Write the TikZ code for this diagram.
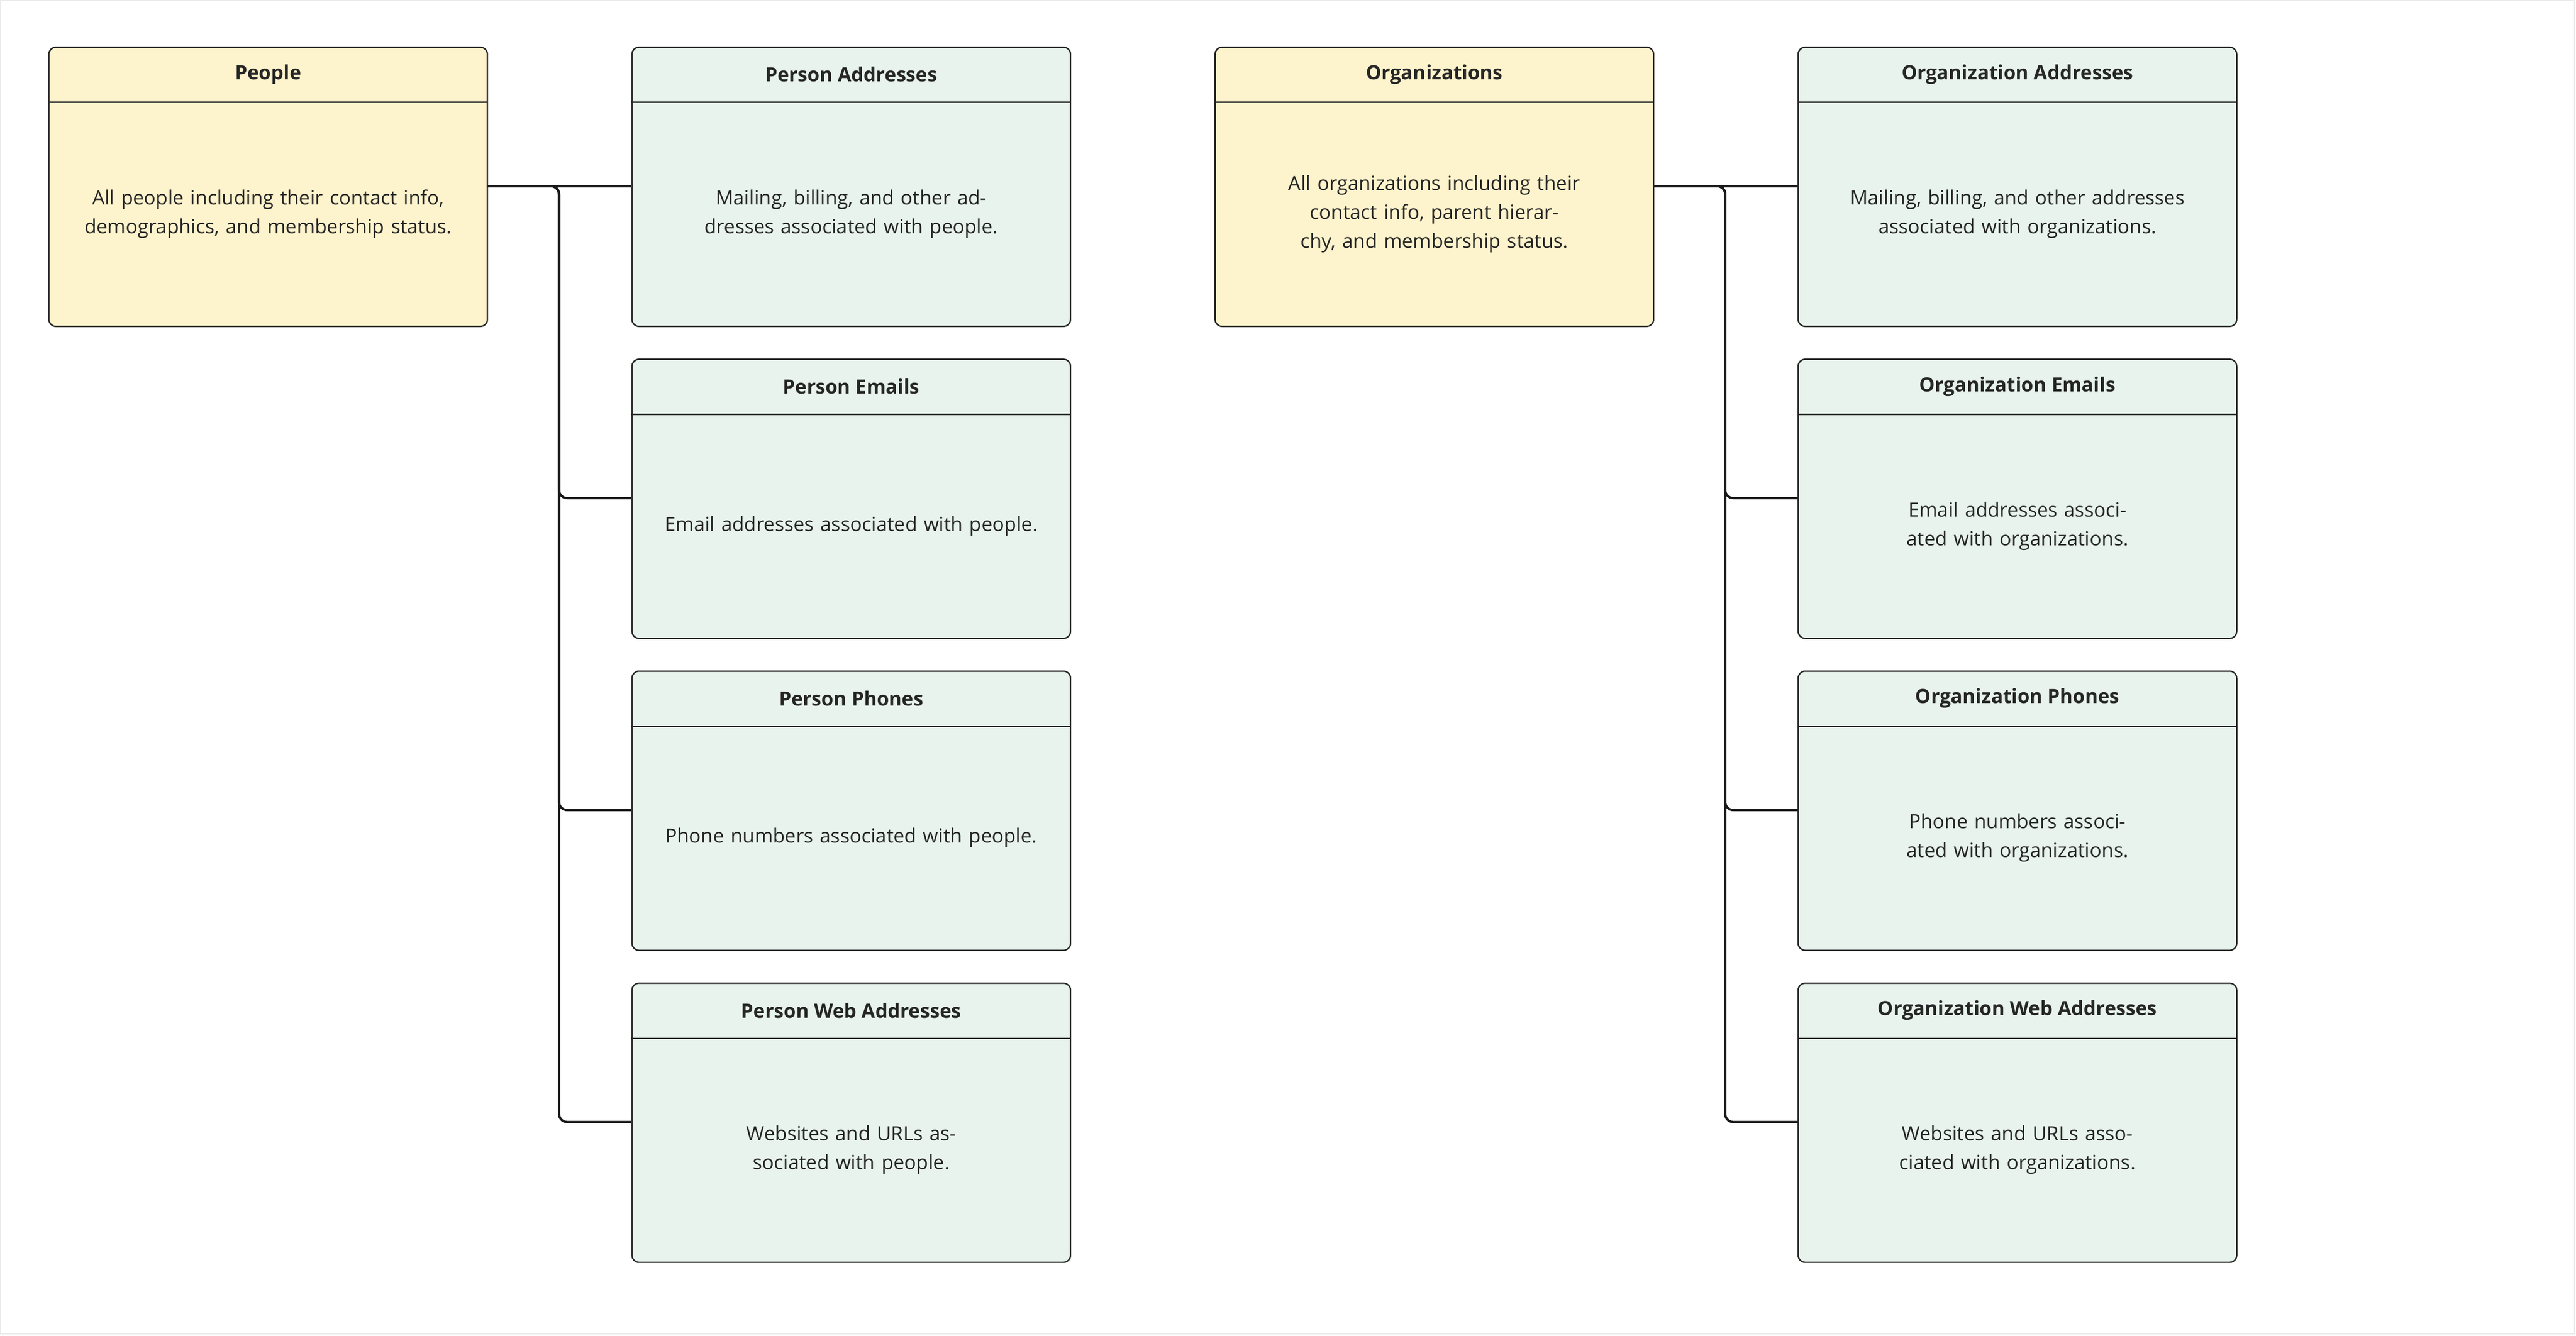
\documentclass[tikz,border=0pt]{standalone}
\usepackage{fontspec}
\setmainfont{Open Sans}
\usetikzlibrary{calc}
\begin{document}
\begin{tikzpicture}[x=0.1cm,y=-0.1cm,
  box/.style={draw=black!85,line width=2.4pt,rounded corners=12pt,minimum width=26.7cm,minimum height=17cm,inner sep=0pt,anchor=north west},
  yel/.style={box,fill={rgb,255:red,253;green,243;blue,204}},
  grn/.style={box,fill={rgb,255:red,231;green,243;blue,236}},
  hd/.style={font=\fontsize{34}{40}\selectfont\bfseries,text=black!85,anchor=center},
  bd/.style={font=\fontsize{34}{50}\selectfont,text=black!85,align=center,text width=24cm,anchor=center},
  con/.style={draw=black!90,line width=4pt,rounded corners=14pt}]
\draw[draw=black!8,line width=2pt,fill=white] (0,0) rectangle (1567,812);
\useasboundingbox (0,0) rectangle (1568,813);
\newcommand\ent[6]{%
  \node[#1] (#2) at (#3,#4) {};
  \draw[draw=black!85,line width=2.4pt] ($(#2.north west)+(0,34)$) -- ($(#2.north east)+(0,34)$);
  \node[hd] at ($(#2.north)+(0,17)$) {#5};
  \node[bd] at ($(#2.north)+(0,102)$) {#6};}
\ent{yel}{people}{29}{28}{People}{All people including their contact info, demographics, and membership status.}
\ent{grn}{pa}{384}{28}{Person Addresses}{Mailing, billing, and other addresses associated with people.}
\ent{grn}{pe}{384}{218}{Person Emails}{Email addresses associated with people.}
\ent{grn}{pp}{384}{408}{Person Phones}{Phone numbers associated with people.}
\ent{grn}{pw}{384}{598}{Person Web Addresses}{Websites and URLs associated with people.}
\ent{yel}{org}{739}{28}{Organizations}{All organizations including their contact info, parent hierarchy, and membership status.}
\ent{grn}{oa}{1094}{28}{Organization Addresses}{Mailing, billing, and other addresses associated with organizations.}
\ent{grn}{oe}{1094}{218}{Organization Emails}{Email addresses associated with organizations.}
\ent{grn}{op}{1094}{408}{Organization Phones}{Phone numbers associated with organizations.}
\ent{grn}{ow}{1094}{598}{Organization Web Addresses}{Websites and URLs associated with organizations.}
\foreach \s/\a/\b/\c/\d/\xx in {people/pa/pe/pp/pw/340, org/oa/oe/op/ow/1050}{
  \draw[con] ($(\s.north east)+(0,85)$) -- ($(\a.north west)+(0,85)$);
  \foreach \t in {\b,\c,\d}
    \draw[con] ($(\s.north east)+(0,85)$) -- (\xx,113) |- ($(\t.north west)+(0,85)$);
}
\end{tikzpicture}
\end{document}
